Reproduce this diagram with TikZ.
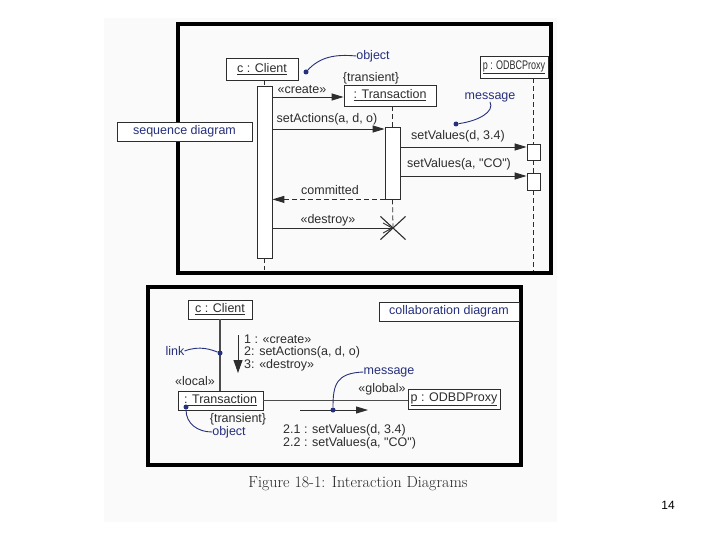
\documentclass[tikz,border=0pt]{standalone}
\usepackage{fontspec}
\newfontfamily\dfont{Liberation Sans}
\newfontfamily\nfont[FakeStretch=0.72]{Liberation Sans}
\usetikzlibrary{arrows.meta,shapes.misc}
\definecolor{navy}{RGB}{38,48,125}
\definecolor{ink}{RGB}{45,45,45}
\tikzset{
  frame/.style={line width=4pt, black},
  objbox/.style={draw=ink, line width=0.8pt, fill=white, inner sep=0pt,
    font=\dfont\fontsize{12.5}{14}\selectfont, text=ink},
  txt/.style={font=\dfont\fontsize{12.5}{14}\selectfont, text=ink, inner sep=0pt},
  note/.style={txt, text=navy},
  lbox/.style={draw=ink, line width=0.8pt, fill=white, inner sep=0pt,
    font=\dfont\fontsize{12.5}{14}\selectfont, text=navy},
  msg/.style={draw=ink, line width=0.9pt, -{Triangle[length=12pt,width=7pt]}},
  retmsg/.style={msg, dash pattern=on 5pt off 3pt},
  life/.style={draw=ink, line width=0.8pt, dash pattern=on 5pt off 3pt},
  act/.style={draw=ink, line width=0.8pt, fill=white, inner sep=0pt},
  pin/.style={draw=navy, line width=0.9pt},
  pdot/.style={circle, fill=navy, inner sep=0pt, minimum size=5pt},
}
\begin{document}
\begin{tikzpicture}[x=1pt,y=-1pt]
\useasboundingbox (0,0) rectangle (720,540);
\fill[black!2] (104,18) rectangle (557,522);

% ---------------- sequence diagram ----------------
\draw[frame] (178,24) rectangle (551,273);

\node[objbox, minimum width=72, minimum height=22] (client) at (262,69) {\underline{c : Client}};
\node[objbox, minimum width=92, minimum height=21] (trans) at (390,95.5) {\underline{: Transaction}};
\node[objbox, minimum width=68, minimum height=22, inner xsep=2pt, font=\nfont\fontsize{12.5}{14}\selectfont] (proxy) at (514,67) {\underline{p : ODBCProxy}};

\node[act, minimum width=15, minimum height=172] (actC) at (264.5,172) {};
\node[act, minimum width=15, minimum height=72] (actT) at (392.5,163) {};
\node[act, minimum width=13, minimum height=16] (pb1) at (533.5,152) {};
\node[act, minimum width=13, minimum height=17] (pb2) at (533.5,181.5) {};
\node[draw=ink, line width=1.1pt, cross out, minimum width=24, minimum height=22, inner sep=0pt] (X) at (393,228) {};

\coordinate (cEnd) at (264.5,270);
\coordinate (pEnd) at (533.5,271);
\coordinate (yA) at (0,97);
\coordinate (yB) at (0,129);
\coordinate (yC) at (0,147);
\coordinate (yD) at (0,176);

% lifelines
\draw[life] (actC.north |- client.south) -- (actC.north);
\draw[life] (actC.south) -- (cEnd);
\draw[life] (actT.north |- trans.south) -- (actT.north);
\draw[life] (actT.south) -- (X.center);
\draw[life] (pb1.north |- proxy.south) -- (pb1.north);
\draw[life] (pb1.south) -- (pb2.north);
\draw[life] (pb2.south) -- (pEnd);

% messages
\draw[msg] (actC.east |- yA) -- (trans.west |- yA);
\draw[msg] (actC.east |- yB) -- (actT.west |- yB);
\draw[msg] (actT.east |- yC) -- (pb1.west |- yC);
\draw[msg] (actT.east |- yD) -- (pb2.west |- yD);
\draw[retmsg] (actT.south west) -- (actC.east |- actT.south west);
\draw[draw=ink, line width=0.9pt, -{Straight Barb[length=9pt,width=10pt]}] (actC.east |- X) -- (X.center);

% message labels
\node[txt] (lCreate) at (302,90) {«create»};
\node[txt] (lTrans) at (371,78) {\{transient\}};
\node[txt] (lSetA) at (327,119) {setActions(a, d, o)};
\node[txt] (lSetV1) at (458,136) {setValues(d, 3.4)};
\node[txt] (lSetV2) at (459,164) {setValues(a, "CO")};
\node[txt] (lComm) at (330,190) {committed};
\node[txt] (lDest) at (328,220) {«destroy»};

% annotations
\node[note] (objT) at (373,56) {object};
\node[pdot] (dO) at (306,72) {};
\draw[pin] (dO) .. controls (320,57) and (335,54) .. (objT.west);
\node[note] (msgT) at (490,97) {message};
\node[pdot] (dM) at (456,124) {};
\draw[pin] (dM) .. controls (478,121) and (495,112) .. (msgT.south);

\node[lbox, minimum width=135, minimum height=19] (seqlbl) at (184.5,131.5) {sequence diagram};

% ---------------- collaboration diagram ----------------
\draw[frame] (148,287) rectangle (521,465);

\node[objbox, minimum width=64, minimum height=19] (client2) at (220,309.5) {\underline{c : Client}};
\node[objbox, minimum width=85, minimum height=19] (trans2) at (220.5,400.5) {\underline{: Transaction}};
\node[objbox, minimum width=92, minimum height=20] (proxy2) at (454,399) {\underline{p : ODBDProxy}};
\node[lbox, minimum width=140, minimum height=19] (collbl) at (449,311.5) {collaboration diagram};

\draw[draw=black!70, line width=1.6pt] (client2.south) -- (client2.south |- trans2.north);
\draw[draw=black!70, line width=1.2pt] (trans2.east) -- (proxy2.west |- trans2.east);

\coordinate (aTop) at (238,335);
\coordinate (aBot) at (238,373);
\draw[draw=ink, line width=0.9pt, -{Triangle[length=13pt,width=9pt]}] (aTop) -- (aBot);

\node[txt, anchor=west] (c1) at (244,339) {1 : «create»};
\node[txt, anchor=west] (c2) at (244,352) {2: setActions(a, d, o)};
\node[txt, anchor=west] (c3) at (244,365) {3: «destroy»};

\node[note] (linkT) at (175,351) {link};
\coordinate (yL) at (0,353);
\node[pdot] (dL) at (client2.south |- yL) {};
\draw[pin] (linkT.east) .. controls (200,345) and (212,350) .. (dL);

\node[txt] (local) at (195,381) {«local»};
\node[txt] (trans2lbl) at (238,419) {\{transient\}};
\node[note] (obj2T) at (229,432) {object};
\node[pdot] (dO2) at (186,407) {};
\draw[pin] (dO2) .. controls (186,424) and (198,432) .. (obj2T.west);

\node[txt] (glob) at (382,389) {«global»};
\node[note] (msg2T) at (389,372) {message};

\coordinate (mA) at (300,410);
\coordinate (mB) at (368,410);
\draw[msg] (mA) -- (mB);
\node[pdot] (dM2) at (333,410) {};
\draw[pin] (msg2T.west) .. controls (336,373) and (333,385) .. (dM2);

\node[txt, anchor=west] (v1) at (283,430) {2.1 : setValues(d, 3.4)};
\node[txt, anchor=west] (v2) at (283,443) {2.2 : setValues(a, "CO")};

% caption and page number
\node[font=\fontsize{16}{19}\selectfont, text=black!85] (cap) at (358,484) {Figure 18-1: Interaction Diagrams};
\node[font=\dfont\fontsize{12}{14}\selectfont] (pg) at (668,505) {14};
\end{tikzpicture}
\end{document}
